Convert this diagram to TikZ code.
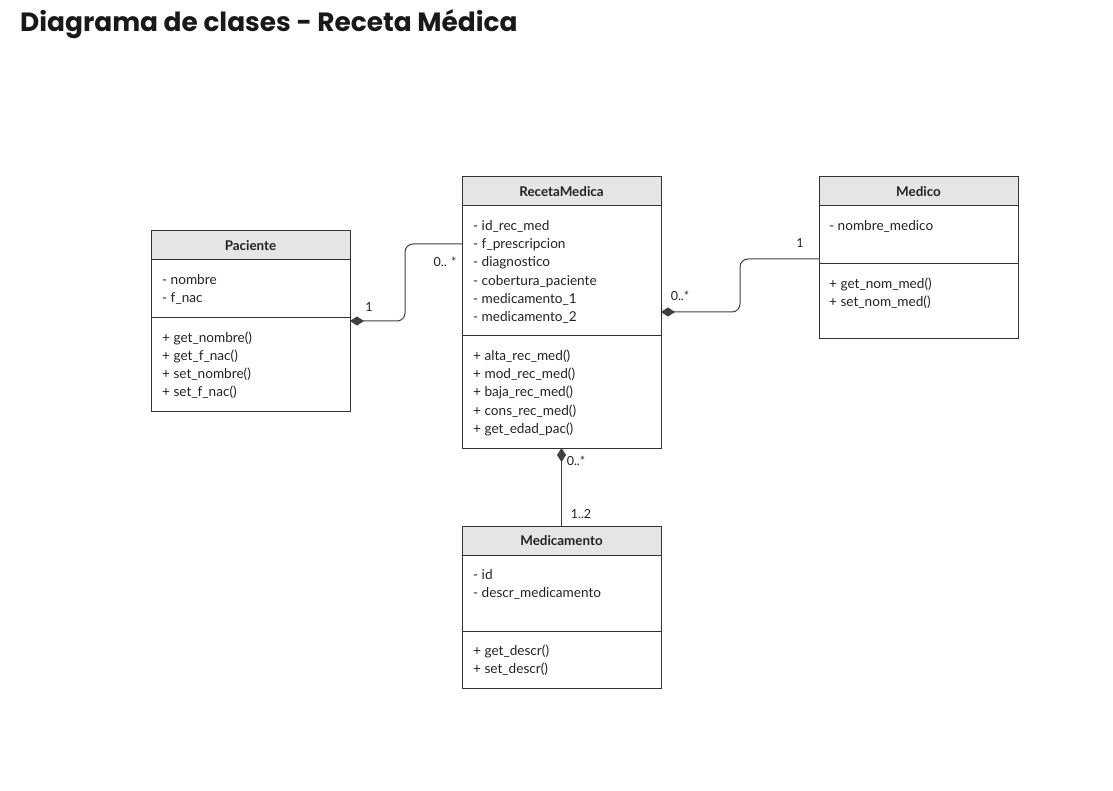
\documentclass[tikz,border=0pt]{standalone}
\usepackage{fontspec}
\setmainfont{Lato}
\newfontfamily\titulo{Poppins}
\usetikzlibrary{arrows.meta,positioning}
\definecolor{borde}{HTML}{333333}
\definecolor{cabgris}{HTML}{E5E5E5}
\definecolor{linea}{HTML}{404040}
\definecolor{texto}{HTML}{222222}
\tikzset{
  cab/.style={draw=borde, line width=1pt, fill=cabgris, minimum width=199, minimum height=29, anchor=north west, inner sep=0, outer sep=0, text=texto, font=\fontsize{13.4}{15}\selectfont\bfseries},
  secc/.style={draw=borde, line width=1pt, minimum width=199, inner sep=0, outer sep=0},
  miembro/.style={anchor=base west, inner sep=0, text=texto, font=\fontsize{13.6}{15}\selectfont},
  comp/.style={draw=linea, line width=1pt, {Diamond[length=14,width=9]}-, rounded corners=8},
  mult/.style={inner sep=0, text=texto, font=\fontsize{12.5}{14}\selectfont}
}

\begin{document}
\begin{tikzpicture}[x=1pt, y=-1pt]
\useasboundingbox (0,0) rectangle (1113,791);
\node[anchor=base west, inner sep=0, text=black!90, font=\titulo\bfseries\fontsize{26.4}{30}\selectfont] (titulo) at (20,32) {Diagrama de clases - Receta Médica};

\node[cab] (pac) at (151,231) {Paciente};
\node[secc, minimum height=58, below=0pt of pac] (pacAtr) {};
\node[secc, minimum height=93, below=0pt of pacAtr] (pacMet) {};
\foreach \t [count=\i from 0] in {- nombre, - f\_nac}
\node[miembro] (pacA\i) at ([shift={(11,24.5+18*\i)}]pacAtr.north west) {\t};
\foreach \t [count=\i from 0] in {+ get\_nombre(), + get\_f\_nac(), + set\_nombre(), + set\_f\_nac()}
\node[miembro] (pacM\i) at ([shift={(11,24.5+18*\i)}]pacMet.north west) {\t};

\node[cab] (rec) at (462,177) {RecetaMedica};
\node[secc, minimum height=130, below=0pt of rec] (recAtr) {};
\node[secc, minimum height=112, below=0pt of recAtr] (recMet) {};
\foreach \t [count=\i from 0] in {- id\_rec\_med, - f\_prescripcion, - diagnostico, - cobertura\_paciente, - medicamento\_1, - medicamento\_2}
\node[miembro] (recA\i) at ([shift={(11,24.5+18.2*\i)}]recAtr.north west) {\t};
\foreach \t [count=\i from 0] in {+ alta\_rec\_med(), + mod\_rec\_med(), + baja\_rec\_med(), + cons\_rec\_med(), + get\_edad\_pac()}
\node[miembro] (recM\i) at ([shift={(11,24+18.4*\i)}]recMet.north west) {\t};

\node[cab] (med) at (819,177) {Medico};
\node[secc, minimum height=58, below=0pt of med] (medAtr) {};
\node[secc, minimum height=75, below=0pt of medAtr] (medMet) {};
\node[miembro] (medA0) at ([shift={(10,24.5)}]medAtr.north west) {- nombre\_medico};
\foreach \t [count=\i from 0] in {+ get\_nom\_med(), + set\_nom\_med()}
\node[miembro] (medM\i) at ([shift={(10,24.5+18*\i)}]medMet.north west) {\t};

\node[cab] (mto) at (462,526) {Medicamento};
\node[secc, minimum height=76, below=0pt of mto] (mtoAtr) {};
\node[secc, minimum height=57, below=0pt of mtoAtr] (mtoMet) {};
\foreach \t [count=\i from 0] in {- id, - descr\_medicamento}
\node[miembro] (mtoA\i) at ([shift={(11,24.5+18*\i)}]mtoAtr.north west) {\t};
\foreach \t [count=\i from 0] in {+ get\_descr(), + set\_descr()}
\node[miembro] (mtoM\i) at ([shift={(11,24.5+18*\i)}]mtoMet.north west) {\t};

\draw[comp] ([yshift=-3]pacMet.north east) -- ++(55,0) |- ([yshift=-38]recAtr.north west);
\draw[comp] ([yshift=-106]recAtr.north east) -- ++(79,0) |- ([yshift=5]medAtr.south west);
\draw[comp] (recMet.south) -- (mto.north);

\node[mult] (m1) at (369,307) {1};
\node[mult] (m2) at (445,262) {0.. *};
\node[mult] (m3) at (680,296) {0..*};
\node[mult] (m4) at (800,243) {1};
\node[mult] (m5) at (576,461) {0..*};
\node[mult] (m6) at (581,514) {1..2};
\end{tikzpicture}
\end{document}
